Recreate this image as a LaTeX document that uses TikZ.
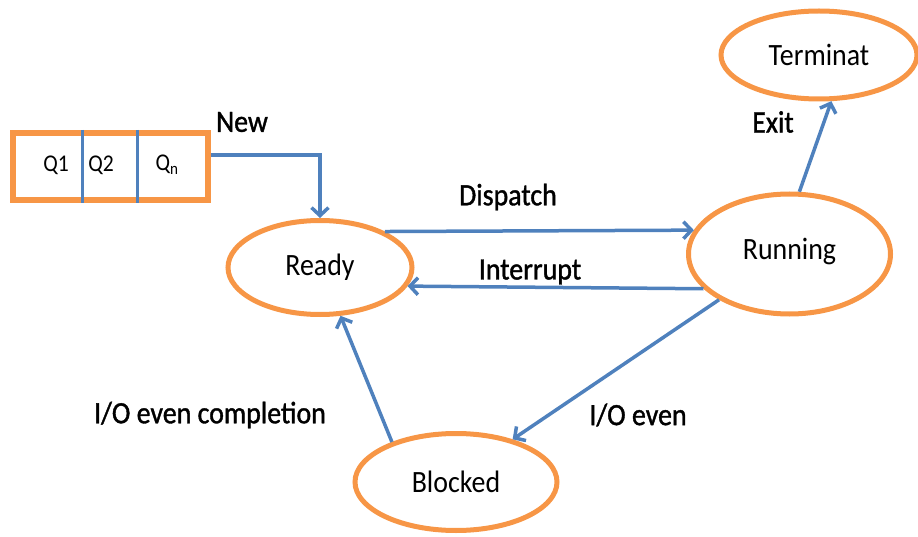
\documentclass[tikz,border=0pt]{standalone}
\usepackage{fontspec}
\setmainfont{Carlito}[FakeStretch=0.9]
\newfontfamily\labelfont{Carlito}[FakeStretch=0.9,FakeBold=1.2]
\usetikzlibrary{arrows.meta}
\usetikzlibrary{shapes.geometric}
\definecolor{stateorange}{RGB}{247,150,70}
\definecolor{arrowblue}{RGB}{79,129,189}

\begin{document}
\begin{tikzpicture}[x=1pt,y=-1pt,
    state/.style={ellipse,draw=stateorange,line width=5pt,inner sep=0pt,font=\fontsize{31}{31}\selectfont},
    trans/.style={draw=arrowblue,line width=3.5pt,-{Straight Barb[length=8pt,width=17pt,line width=3.5pt]}},
    lbl/.style={inner sep=0pt,font=\labelfont\fontsize{31}{31}\selectfont},
    qlbl/.style={inner sep=0pt,font=\fontsize{24}{24}\selectfont}]
        \useasboundingbox (0,0) rectangle (918,537);
        % the queue of new processes
        \node[draw=stateorange,line width=6pt,minimum width=195pt,minimum height=67pt,inner sep=0pt] (queue) at (110.5,166.5) {};
        \draw[arrowblue,line width=3pt] ([xshift=72pt]queue.north west) -- ([xshift=72pt]queue.south west);
        \draw[arrowblue,line width=3pt] ([xshift=127pt]queue.north west) -- ([xshift=127pt]queue.south west);
        \node[qlbl] (q1) at (56,165) {Q1};
        \node[qlbl] (q2) at (101,165) {Q2};
        \node[qlbl] (qn) at (167,165) {Q\textsubscript{n}};
        % states
        \node[state,minimum width=184pt,minimum height=94pt] (ready) at (320,267.5) {Ready};
        \node[state,minimum width=202pt,minimum height=120pt] (running) at (789.5,254) {\raisebox{11pt}{Running}};
        \node[state,minimum width=196pt,minimum height=88pt] (terminat) at (819,55) {Terminat};
        \node[state,minimum width=202pt,minimum height=97pt] (blocked) at (456,482) {Blocked};
        % transitions
        \draw[trans] ([yshift=11.5pt]queue.east) -| (ready.north);
        \draw[trans] (ready.29) -- (running.166);
        \draw[trans] (running.202) -- (ready.348);
        \draw[trans] (running.81) -- (terminat.285);
        \draw[trans] (running.213) -- (blocked.37);
        \draw[trans] (blocked.148) -- (ready.293);
        % labels
        \node[lbl] (new) at (242,122) {New};
        \node[lbl] (dispatch) at (508,197) {Dispatch};
        \node[lbl] (interrupt) at (530,272) {Interrupt};
        \node[lbl] (exit) at (773,122) {Exit};
        \node[lbl] (ioeven) at (638,415) {I/O even};
        \node[lbl] (iocompl) at (210,415) {I/O even completion};
\end{tikzpicture}
\end{document}
